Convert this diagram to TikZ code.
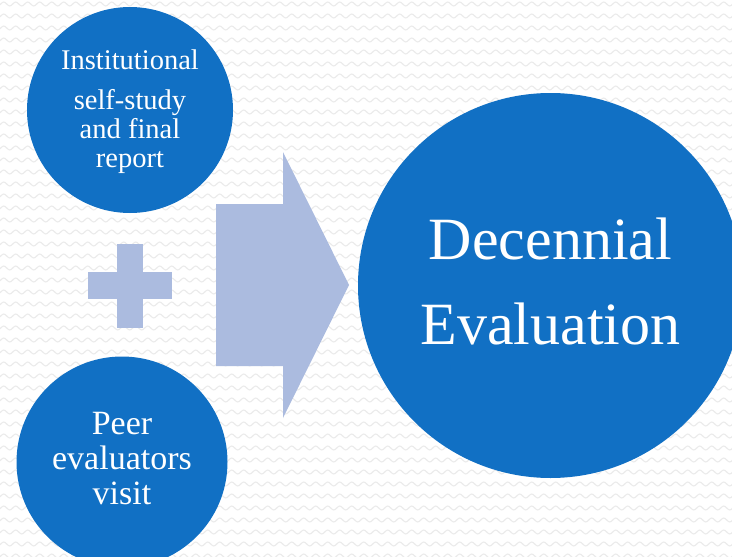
\documentclass[tikz,border=0pt]{standalone}
\usepackage{fontspec}
\setmainfont{Liberation Serif}
\usetikzlibrary{decorations.pathmorphing}
\definecolor{bubbleblue}{HTML}{1170C4}
\definecolor{palearrow}{HTML}{ABBBDF}
\definecolor{wavegray}{HTML}{EBEBEB}
\tikzset{
  bubble/.style={circle, fill=bubbleblue, inner sep=0pt},
  bubbletext/.style={text=white, inner sep=0pt, align=center},
  shapefill/.style={fill=palearrow, draw=none},
  bgwave/.style={draw=wavegray, line width=1.1pt, decorate,
    decoration={snake, segment length=12pt, amplitude=2pt}}
}
\begin{document}
\begin{tikzpicture}[x=1pt,y=-1pt]
  \useasboundingbox (0,0) rectangle (732,557);
  \begin{scope}
    \clip (0,0) rectangle (732,557);
    \fill[white] (0,0) rectangle (732,557);
    \foreach \r in {0,...,47} {
      \draw[bgwave] (-12,{4+12*\r}) -- (744,{4+12*\r});
    }
    % plus sign
    \fill[shapefill] (117,244) rectangle (143,328);
    \fill[shapefill] (88,272) rectangle (172,299);
    % block arrow
    \fill[shapefill] (216,204) -- (283,204) -- (283,152) -- (349,285)
      -- (283,418) -- (283,366) -- (216,366) -- cycle;
    % circles
    \node[bubble, minimum size=206pt] (self) at (130,110) {};
    \node[bubble, minimum size=211pt] (peer) at (122,462) {};
    \node[bubble, minimum size=385pt] (dec) at (550.5,285.5) {};
    % texts
    \node[bubbletext, font=\fontsize{28.5}{29}\selectfont]
      (selftext) at ([yshift=-1.5pt]self.center)
      {Institutional\\[11pt]self-study\\and final\\report};
    \node[bubbletext, font=\fontsize{34}{35}\selectfont]
      (peertext) at ([yshift=3pt]peer.center)
      {Peer\\evaluators\\visit};
    \node[bubbletext, font=\fontsize{60}{85}\selectfont]
      (dectext) at ([yshift=4pt]dec.center)
      {Decennial\\Evaluation};
  \end{scope}
\end{tikzpicture}
\end{document}
